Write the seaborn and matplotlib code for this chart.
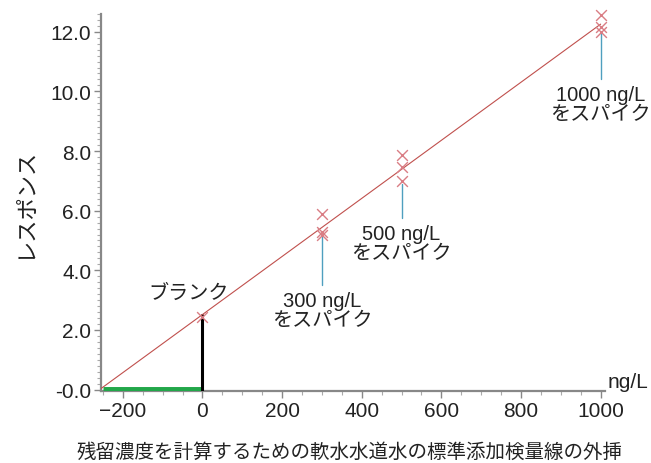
import numpy as np
import pandas as pd
import matplotlib
matplotlib.use('Agg')
import matplotlib.pyplot as plt
from matplotlib.ticker import AutoMinorLocator
import seaborn as sns

sns.set_theme(style="white")
plt.rcParams['font.family'] = ['Liberation Sans', 'Noto Sans CJK JP', 'DejaVu Sans']

# data
spike_conc = [300, 300, 300, 500, 500, 500, 1000, 1000, 1000]
spike_resp = [5.9, 5.27, 5.17, 7.85, 7.48, 6.98, 12.55, 12.15, 11.98]
blank_conc = 0
blank_resp = 2.42
spike_levels = [300, 500, 1000]
spike_labels = ['300 ng/L\nをスパイク', '500 ng/L\nをスパイク', '1000 ng/L\nをスパイク']
x_ticks = [-200, 0, 200, 400, 600, 800, 1000]
y_ticks = [0, 2, 4, 6, 8, 10, 12]
y_ticklabels = ['-0.0', '2.0', '4.0', '6.0', '8.0', '10.0', '12.0']

df = pd.DataFrame({'conc': spike_conc + [blank_conc], 'resp': spike_resp + [blank_resp]})
slope, icpt = np.polyfit(df['conc'], df['resp'], 1)
x0 = -icpt / slope
fit = pd.DataFrame({'conc': [x0, 1000], 'resp': [0, slope * 1000 + icpt]})

fig = plt.figure(figsize=(6.51, 4.64), dpi=100)
ax = fig.add_axes([0.155, 0.155, 0.775, 0.813])

# green extrapolated segment, black blank line
ax.plot([-250, 0], [0, 0], color='#22a74a', lw=5, solid_capstyle='butt', zorder=3)
ax.plot([0, 0], [0, icpt], color='black', lw=2.2, zorder=3)

sns.lineplot(data=fit, x='conc', y='resp', color='#c0504d', lw=0.8, ax=ax, zorder=4)
sns.scatterplot(data=df, x='conc', y='resp', marker='x', s=60, color='#d97d84',
                linewidth=1.0, ax=ax, zorder=5, clip_on=False)

# teal leader lines + labels
lead = {300: (5.15, 3.5), 500: (6.9, 5.75), 1000: (11.95, 10.4)}
for lv, lab in zip(spike_levels, spike_labels):
    top, bot = lead[lv]
    ax.plot([lv, lv], [bot, top], color='#4f9fbf', lw=1.0, zorder=3)
    ax.text(lv, bot - 0.2, lab, ha='center', va='top', fontsize=14.5,
            color='#222222', linespacing=1.0)

ax.text(-35, 2.95, 'ブランク', ha='center', va='bottom', fontsize=14.5, color='#222222')

ax.set_xlim(-255, 1012)
ax.set_ylim(-0.05, 12.6)
ax.set_xticks(x_ticks)
ax.set_yticks(y_ticks)
ax.set_yticklabels(y_ticklabels)
ax.xaxis.set_minor_locator(AutoMinorLocator(4))
ax.yaxis.set_minor_locator(AutoMinorLocator(10))
ax.tick_params(axis='both', which='major', direction='out', length=5, width=1,
               color='#888888', labelsize=15, labelcolor='#222222', pad=2)
ax.tick_params(axis='both', which='minor', direction='out', length=3, width=0.8,
               color='#aaaaaa')
ax.tick_params(bottom=True, left=True, which='both')
sns.despine(ax=ax)
for s in ['left', 'bottom']:
    ax.spines[s].set_color('#888888')
    ax.spines[s].set_linewidth(1.6)

ax.set_xlabel('')
ax.set_ylabel('レスポンス', fontsize=16, color='#222222', labelpad=10)
ax.text(1.005, 0.0, 'ng/L', transform=ax.transAxes, ha='left', va='bottom',
        fontsize=15, color='#222222')
fig.text(0.537, 0.025, '残留濃度を計算するための軟水水道水の標準添加検量線の外挿',
         ha='center', va='center', fontsize=14, color='#222222')

fig.savefig('out.png', dpi=100)
